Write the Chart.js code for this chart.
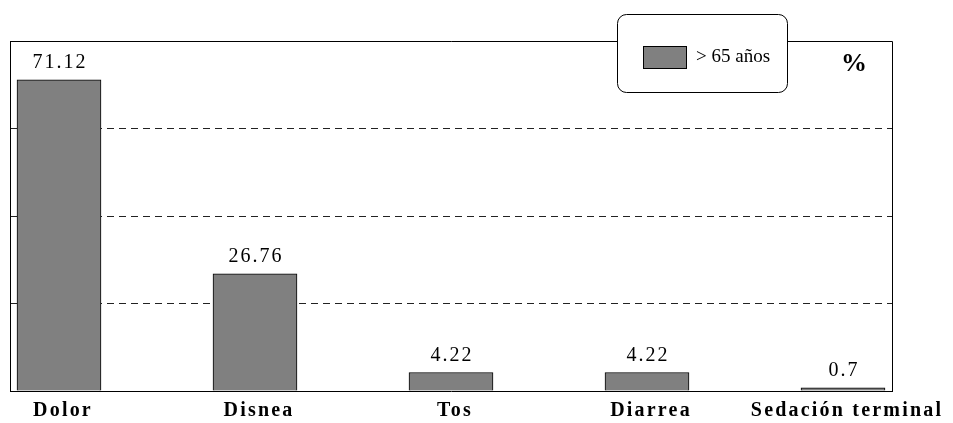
<!DOCTYPE html>
<html>
<head>
<meta charset="utf-8">
<script src="https://cdn.jsdelivr.net/npm/chart.js@4/dist/chart.umd.min.js"></script>
<style>
  html, body { margin: 0; padding: 0; background: #fff; }
  #wrap { width: 953px; height: 423px; }
</style>
</head>
<body>
<div id="wrap"><canvas id="c" width="953" height="423"></canvas></div>
<script>
// Symptom frequencies, patients over 65
const categories = ['Dolor', 'Disnea', 'Tos', 'Diarrea', 'Sedación terminal'];
const values = [71.12, 26.76, 4.22, 4.22, 0.7];
const seriesName = '> 65 años';
const yTicks = [0, 20, 40, 60, 80];
const unitLabel = '%';

const SERIF = '"Liberation Serif", "Times New Roman", serif';
const BAR_FILL = '#808080';

// Spaced-out lettering for axis labels (scales are drawn before datasets)
const spacingPlugin = {
  id: 'spacing',
  beforeDraw(chart) { chart.ctx.letterSpacing = '2.2px'; },
  beforeDatasetsDraw(chart) { chart.ctx.letterSpacing = '0px'; }
};

// Value above each bar, frame, unit mark and boxed legend
const decorPlugin = {
  id: 'decor',
  afterDatasetsDraw(chart) {
    const ctx = chart.ctx;
    const meta = chart.getDatasetMeta(0);
    ctx.save();
    ctx.letterSpacing = '2px';
    ctx.font = '20px ' + SERIF;
    ctx.fillStyle = '#000';
    ctx.textAlign = 'center';
    ctx.textBaseline = 'alphabetic';
    meta.data.forEach((bar, i) => {
      ctx.fillText(String(values[i]), bar.x + 1, bar.y - 12);
    });
    ctx.restore();
  },
  afterDraw(chart) {
    const ctx = chart.ctx;
    const a = chart.chartArea;
    const ds = chart.data.datasets[0];
    ctx.save();
    // top and right frame lines
    ctx.strokeStyle = '#000';
    ctx.lineWidth = 1;
    ctx.beginPath();
    ctx.moveTo(a.left, Math.round(a.top) + 0.5);
    ctx.lineTo(Math.round(a.right) + 0.5, Math.round(a.top) + 0.5);
    ctx.lineTo(Math.round(a.right) + 0.5, a.bottom);
    ctx.stroke();

    // unit mark
    ctx.letterSpacing = '0px';
    ctx.font = 'bold 26px ' + SERIF;
    ctx.fillStyle = '#000';
    ctx.textAlign = 'center';
    ctx.textBaseline = 'alphabetic';
    ctx.fillText(unitLabel, a.right - 38, a.top + 30);

    // legend box
    const bx = a.right - 275, by = 14, bw = 170, bh = 78;
    ctx.beginPath();
    ctx.roundRect(bx + 0.5, by + 0.5, bw, bh, 9);
    ctx.fillStyle = '#fff';
    ctx.fill();
    ctx.strokeStyle = '#000';
    ctx.stroke();
    ctx.fillStyle = ds.backgroundColor;
    ctx.fillRect(bx + 26.5, by + 32.5, 43, 22);
    ctx.strokeStyle = ds.borderColor;
    ctx.strokeRect(bx + 26.5, by + 32.5, 43, 22);
    ctx.fillStyle = '#000';
    ctx.font = '19px ' + SERIF;
    ctx.textAlign = 'left';
    ctx.fillText(ds.label, bx + 79, by + 48);
    ctx.restore();
  }
};

new Chart(document.getElementById('c'), {
  type: 'bar',
  data: {
    datasets: [{
      label: seriesName,
      data: values.map((v, i) => ({ x: i, y: v })),
      backgroundColor: BAR_FILL,
      borderColor: '#000',
      borderWidth: 1,
      barThickness: 84
    }]
  },
  options: {
    responsive: false,
    devicePixelRatio: 1,
    animation: false,
    layout: { padding: { left: 10, top: 41, right: 61, bottom: -8 } },
    plugins: {
      legend: { display: false },
      tooltip: { enabled: false }
    },
    scales: {
      x: {
        type: 'linear',
        offset: false,
        min: -0.25,
        max: 4.25,
        afterBuildTicks: s => { s.ticks = categories.map((_, i) => ({ value: i })); },
        grid: { display: false, drawTicks: false, offset: false },
        border: { display: true, color: '#000', width: 1 },
        ticks: {
          callback: v => categories[v],
          autoSkip: false,
          maxRotation: 0,
          padding: 11,
          labelOffset: 4,
          color: '#000',
          font: { family: SERIF, size: 20, weight: 'bold', lineHeight: 0.9 }
        }
      },
      y: {
        min: 0,
        max: 80,
        afterBuildTicks: s => { s.ticks = yTicks.map(v => ({ value: v })); },
        ticks: { display: false },
        grid: { color: '#222', lineWidth: 1, drawTicks: false },
        border: { display: true, color: '#000', width: 1, dash: [7, 5] }
      }
    }
  },
  plugins: [spacingPlugin, decorPlugin]
});
</script>
</body>
</html>
